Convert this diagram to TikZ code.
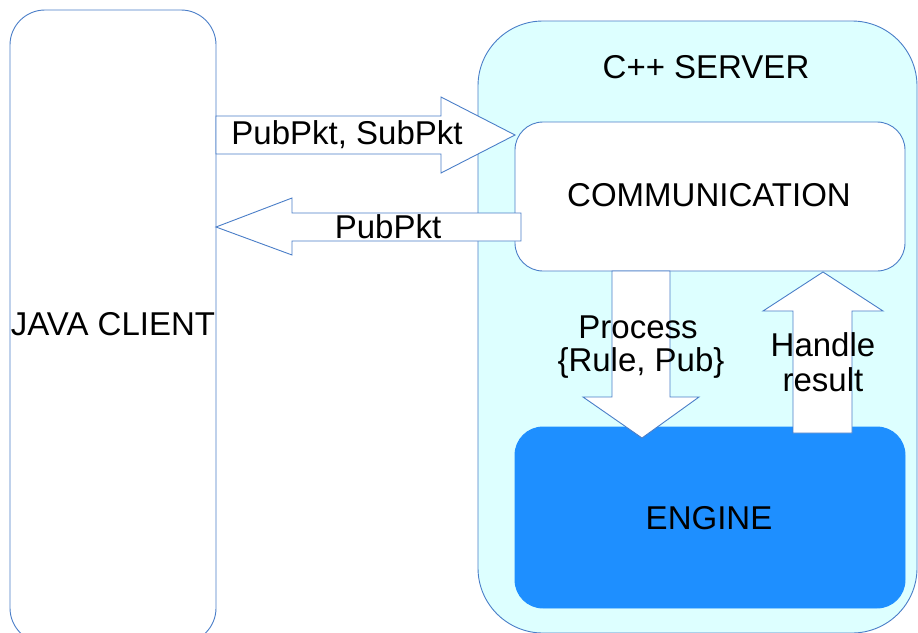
\documentclass[tikz,border=0pt]{standalone}
\usepackage{fontspec}
\setmainfont{Liberation Sans}
\definecolor{edge}{HTML}{4A7EC8}
\definecolor{serverfill}{HTML}{DDFFFF}
\definecolor{enginefill}{HTML}{1E8FFF}
\begin{document}
\begin{tikzpicture}[x=1pt,y=-1pt,
  box/.style={draw=edge,line width=0.9pt,inner sep=0pt,outer sep=0pt,rectangle},
  fatarrow/.style={draw=edge,fill=white,line width=0.9pt,line join=miter},
  lbl/.style={font=\fontsize{33}{38}\selectfont,inner sep=0pt,align=center}]
\useasboundingbox (0,0) rectangle (918,632);
\clip (0,0) rectangle (918,632);
\fill[white] (0,0) rectangle (918,632);
% boxes
\node[box,fill=white,rounded corners=35pt,minimum width=206pt,minimum height=633pt] (java) at (113,326.5) {};
\node[box,fill=serverfill,rounded corners=65pt,minimum width=439pt,minimum height=612pt] (server) at (697.5,327) {};
\node[box,fill=white,rounded corners=28pt,minimum width=390pt,minimum height=149pt] (comm) at (710,196.5) {};
\node[box,draw=enginefill,fill=enginefill,rounded corners=28pt,minimum width=390pt,minimum height=181pt] (engine) at (710,517.5) {};
% fat arrows
\draw[fatarrow] (java.east |- 0,116) -- (441,116) -- (441,97) -- (comm.west |- 0,135) -- (441,173) -- (441,154) -- (java.east |- 0,154) -- cycle;
\draw[fatarrow] (521,213) -- (292,213) -- (292,198) -- (java.east |- 0,227) -- (292,255) -- (292,241) -- (521,241) -- cycle;
\draw[fatarrow] (612,0 |- comm.south) -- (670,0 |- comm.south) -- (670,397) -- (699,397) -- (642,438) -- (583,397) -- (612,397) -- cycle;
\draw[fatarrow] (793,433) -- (852,433) -- (852,311) -- (883,311) -- (823,272) -- (763,311) -- (793,311) -- cycle;
% labels
\node[lbl] (tjava) at (113,324) {JAVA CLIENT};
\node[lbl] (tserver) at (706,67) {C++ SERVER};
\node[lbl] (tcomm) at (709,195) {COMMUNICATION};
\node[lbl] (tengine) at (709,518) {ENGINE};
\node[lbl] (tpubsub) at (347,135) {PubPkt, SubPkt};
\node[lbl] (tpub) at (388,227) {PubPkt};
\node[lbl] (tprocess) at (638,327) {Process};
\node[lbl] (trule) at (641,363) {\{Rule, Pub\}};
\node[lbl] (thandle) at (823,345) {Handle};
\node[lbl] (tresult) at (823,380) {result};
\end{tikzpicture}
\end{document}
